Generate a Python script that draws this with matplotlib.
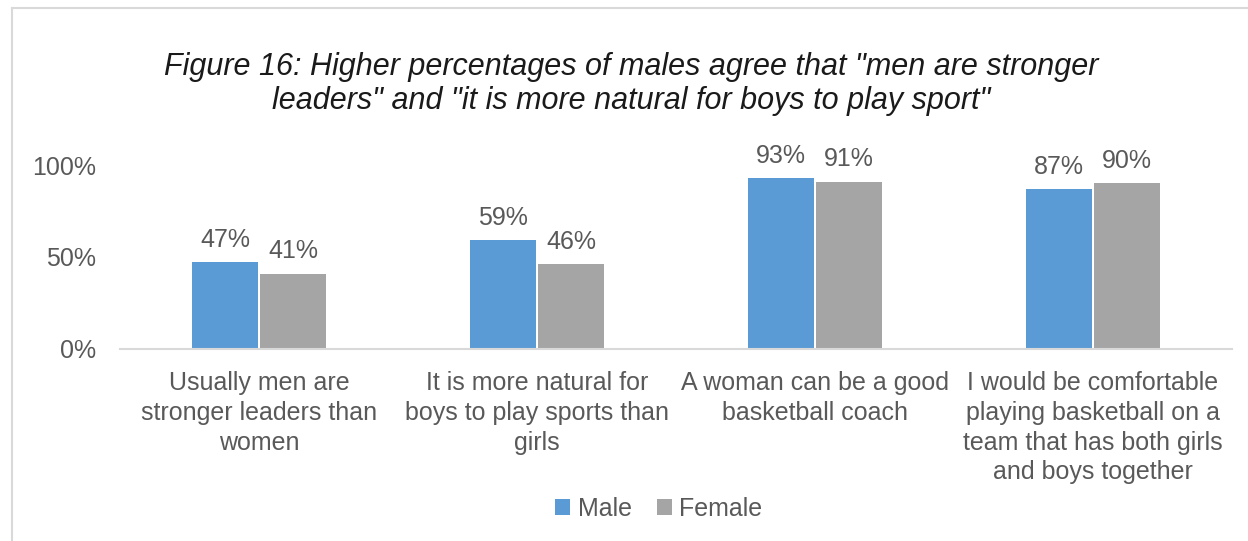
import matplotlib.pyplot as plt
from matplotlib.lines import Line2D

# data
categories = ["Usually men are\nstronger leaders than\nwomen",
              "It is more natural for\nboys to play sports than\ngirls",
              "A woman can be a good\nbasketball coach",
              "I would be comfortable\nplaying basketball on a\nteam that has both girls\nand boys together"]
male = [0.47, 0.59, 0.93, 0.87]
female = [0.41, 0.46, 0.91, 0.90]
yticks = [0, 0.5, 1.0]
ytick_labels = ["0%", "50%", "100%"]

body_font = "Liberation Sans"
grey = "#595959"

fig = plt.figure(figsize=(12.48, 5.41), dpi=100)
ax = fig.add_axes([0.0962, 0.355, 0.891, 0.340])

w = 0.237
x = list(range(len(categories)))
b1 = ax.bar([i - w/2 - 0.004 for i in x], male, w, color="#5B9BD5", label="Male")
b2 = ax.bar([i + w/2 + 0.004 for i in x], female, w, color="#A5A5A5", label="Female")
for bars in (b1, b2):
    for r in bars:
        ax.text(r.get_x() + r.get_width()/2, r.get_height() + 0.055, f"{r.get_height():.0%}",
                ha="center", va="bottom", fontsize=18, color=grey, family=body_font, clip_on=False)

ax.set_xlim(-0.5, 3.5)
ax.set_ylim(0, 1)
ax.set_yticks(yticks)
ax.set_yticklabels(ytick_labels, fontsize=18, color=grey, family=body_font)
ax.set_xticks(x)
ax.set_xticklabels(categories, fontsize=18, color=grey, family=body_font, linespacing=1.3)
ax.tick_params(length=0)
ax.tick_params(axis="y", pad=17)
ax.tick_params(axis="x", pad=16)
for s in ["top", "right", "left"]:
    ax.spines[s].set_visible(False)
ax.spines["bottom"].set_color("#D9D9D9")
ax.spines["bottom"].set_linewidth(1.5)

fig.text(0.506, 0.845, 'Figure 16: Higher percentages of males agree that "men are stronger\nleaders" and "it is more natural for boys to play sport"',
         ha="center", va="center", fontsize=22, style="italic", family=body_font,
         color="#1a1a1a", linespacing=1.2)

leg = fig.legend(handles=[b1, b2], loc="center", bbox_to_anchor=(0.528, 0.059), ncol=2,
                 frameon=False, handlelength=0.6, handleheight=0.6,
                 handletextpad=0.3, columnspacing=1.0, prop={"family": body_font, "size": 18})
for t in leg.get_texts():
    t.set_color(grey)

# chart frame (top and left edges visible)
fig.add_artist(Line2D([12/1248, 1], [1 - 8/541, 1 - 8/541], color="#D9D9D9", lw=1.5))
fig.add_artist(Line2D([12/1248, 12/1248], [0, 1 - 8/541], color="#D9D9D9", lw=1.5))

fig.savefig("out.png", dpi=100)
